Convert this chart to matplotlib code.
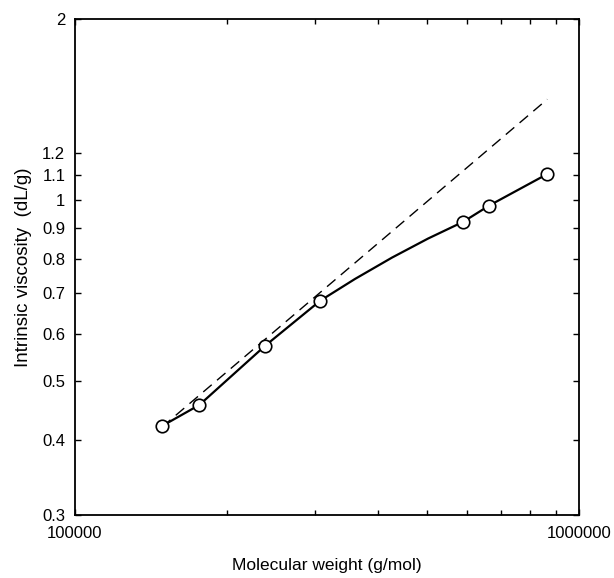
import matplotlib
matplotlib.use("Agg")
import matplotlib.pyplot as plt
from matplotlib.ticker import FixedLocator, NullFormatter, FixedFormatter

plt.rcParams['font.family'] = ['Liberation Sans', 'DejaVu Sans']

# Measured data (molecular weight, intrinsic viscosity)
mw = [148800, 176500, 238300, 306700, 589500, 663700, 862800]
visc = [0.4216, 0.457, 0.573, 0.681, 0.921, 0.980, 1.104]

# Smooth fitted curve
curve_mw = [148800, 176500, 238300, 306700, 359400, 425600, 501600, 589500, 663700, 862800]
curve_visc = [0.4216, 0.457, 0.573, 0.681, 0.740, 0.803, 0.8635, 0.921, 0.980, 1.104]

# Dashed straight line (power law) end points
dash_mw = [148800, 865000]
dash_visc = [0.420, 1.471]

ytick_vals = [0.3, 0.4, 0.5, 0.6, 0.7, 0.8, 0.9, 1.0, 1.1, 1.2, 2.0]
ytick_labels = ['0.3', '0.4', '0.5', '0.6', '0.7', '0.8', '0.9', '1', '1.1', '1.2', '2']
xtick_vals = [100000, 1000000]
xtick_labels = ['100000', '1000000']
xminor_vals = [200000, 300000, 400000, 500000, 600000, 700000, 800000, 900000]

fig = plt.figure(figsize=(6.14, 5.78), dpi=100)
W, H = 614, 578
ax = fig.add_axes([75 / W, 1 - 515 / H, (579 - 75) / W, (515 - 19) / H])
ax.set_xscale('log')
ax.set_yscale('log')
ax.set_xlim(100000, 1000000)
ax.set_ylim(0.3, 2.0)

ax.plot(dash_mw, dash_visc, color='black', lw=1.0, dashes=(8, 5), zorder=2)
ax.plot(curve_mw, curve_visc, color='black', lw=1.6, zorder=3,
        solid_joinstyle='round')
ax.plot(mw, visc, linestyle='none', marker='o', markersize=9,
        markerfacecolor='white', markeredgecolor='black', markeredgewidth=1.2, zorder=4)

ax.yaxis.set_major_locator(FixedLocator(ytick_vals))
ax.yaxis.set_major_formatter(FixedFormatter(ytick_labels))
ax.yaxis.set_minor_locator(FixedLocator([]))
ax.xaxis.set_major_locator(FixedLocator(xtick_vals))
ax.xaxis.set_major_formatter(FixedFormatter(xtick_labels))
ax.xaxis.set_minor_locator(FixedLocator(xminor_vals))
ax.xaxis.set_minor_formatter(NullFormatter())

ax.tick_params(axis='both', which='both', direction='in', top=True, right=True,
               width=1.0, labelsize=12)
ax.tick_params(axis='both', which='major', length=4)
ax.tick_params(axis='both', which='minor', length=3.5)
ax.tick_params(axis='y', pad=7)
ax.tick_params(axis='x', pad=8)

for s in ax.spines.values():
    s.set_linewidth(1.3)

ax.set_xlabel('Molecular weight (g/mol)', fontsize=12.5, labelpad=12)
ax.set_ylabel('Intrinsic viscosity  (dL/g)', fontsize=13.5, labelpad=7)

fig.savefig('out.png', dpi=100)
